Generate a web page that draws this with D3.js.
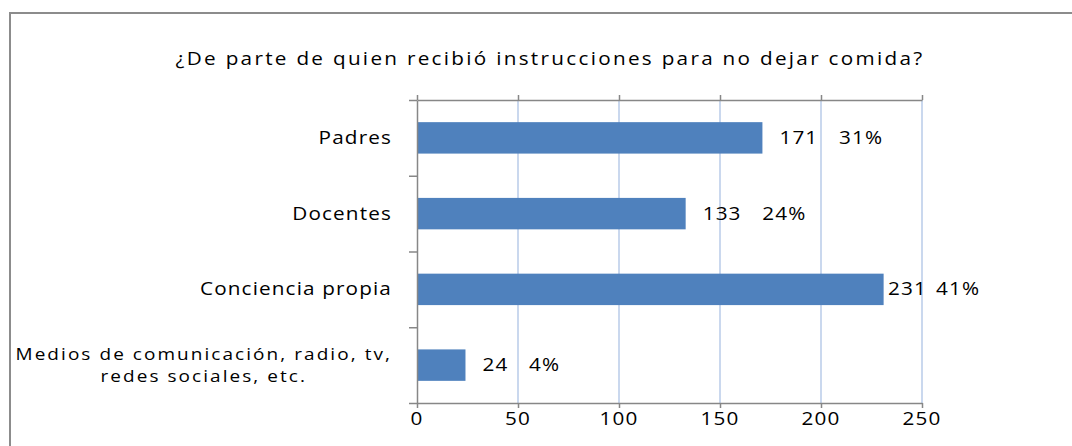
<!DOCTYPE html>
<html>
<head>
<meta charset="utf-8">
<script src="https://cdn.jsdelivr.net/npm/d3@7"></script>
<style>
  body { margin: 0; background: #fff; }
  svg text { font-family: "Open Sans", sans-serif; fill: #000; }
</style>
</head>
<body>
<script>
// chart data
var categories = ["Padres", "Docentes", "Conciencia propia", "Medios de comunicación, radio, tv,|redes sociales, etc."];
var values = [171, 133, 231, 24];
var xTicks = [0, 50, 100, 150, 200, 250];
var title = "¿De parte de quien recibió instrucciones para no dejar comida?";

var width = 1072, height = 446;
var fontSize = 18, stretch = 1.15, spacing = "1px";

var svg = d3.select("body").append("svg")
    .attr("width", width)
    .attr("height", height);

// outer border
svg.append("rect")
    .attr("x", 10).attr("y", 13)
    .attr("width", width).attr("height", height)
    .style("fill", "none")
    .style("stroke", "#8c8c8c")
    .style("stroke-width", 2);

var x = d3.scaleLinear().domain([0, 250]).range([417, 922]);
var y = d3.scaleBand().domain(categories).range([100, 403])
    .paddingInner(0.585).paddingOuter(0.2925);

var total = d3.sum(values);

// helper: horizontally stretched text
function stretchedText(parent, tx, ty, anchor, str) {
    var g = parent.append("g")
        .attr("transform", "translate(" + tx + "," + ty + ") scale(" + stretch + ",1)");
    return g.append("text")
        .attr("text-anchor", anchor)
        .style("font-size", fontSize + "px")
        .style("letter-spacing", spacing)
        .text(str);
}

// title
stretchedText(svg, 550, 65, "middle", title)
    .style("letter-spacing", "2px");

// gridlines
svg.append("g")
    .selectAll("line")
    .data(xTicks.slice(1))
    .enter().append("line")
    .attr("x1", function (d) { return x(d); })
    .attr("x2", function (d) { return x(d); })
    .attr("y1", 100).attr("y2", 403)
    .style("stroke", "#b9cbe8")
    .style("stroke-width", 1.5);

// bars
svg.append("g")
    .selectAll("rect")
    .data(values)
    .enter().append("rect")
    .attr("x", x(0))
    .attr("y", function (d, i) { return y(categories[i]); })
    .attr("width", function (d) { return x(d) - x(0); })
    .attr("height", y.bandwidth())
    .style("fill", "#4f81bd");

// axes
var axisColor = "#878787";
var bottomAxis = svg.append("g")
    .attr("transform", "translate(0,403)")
    .call(d3.axisBottom(x).tickValues(xTicks).tickSize(5).tickSizeOuter(0).tickFormat(""));
var topAxis = svg.append("g")
    .attr("transform", "translate(0,100)")
    .call(d3.axisTop(x).tickValues(xTicks).tickSize(5).tickSizeOuter(0).tickFormat(""));
var leftAxis = svg.append("g")
    .attr("transform", "translate(417,0)")
    .call(d3.axisLeft(d3.scaleLinear().domain([0, 4]).range([100, 403]))
        .ticks(4).tickSize(8).tickSizeOuter(0).tickFormat(""));

[bottomAxis, topAxis, leftAxis].forEach(function (a) {
    a.selectAll("path, line").style("stroke", axisColor).style("stroke-width", 1.5);
});

// tick labels
var tickG = svg.append("g");
xTicks.forEach(function (t) {
    stretchedText(tickG, x(t), 425, "middle", t);
});

// category labels
var catG = svg.append("g");
categories.forEach(function (c) {
    var lines = c.split("|");
    var cy = y(c) + y.bandwidth() / 2;
    if (lines.length === 1) {
        stretchedText(catG, 392, cy + 6, "end", c);
    } else {
        // two-line label: slightly smaller font, lines centred in one block
        var fs = 16.5, lh = 22.5, ls = "1.8px";
        var y0 = cy + 6 - (lines.length - 1) * lh / 2;
        var widths = lines.map(function (l) {
            var t = stretchedText(catG, 0, 0, "start", l).style("font-size", fs + "px")
                .style("letter-spacing", ls);
            var w = t.node().getComputedTextLength() * stretch;
            t.node().parentNode.remove();
            return w;
        });
        var maxW = d3.max(widths);
        lines.forEach(function (l, k) {
            stretchedText(catG, 392 - maxW / 2, y0 + k * lh, "middle", l)
                .style("font-size", fs + "px")
                .style("letter-spacing", ls);
        });
    }
});

// data labels: value and percent
var labelG = svg.append("g");
values.forEach(function (v, i) {
    var lx = Math.min(x(v) + 17, x(250) - 34);
    var ly = y(categories[i]) + y.bandwidth() / 2 + 6;
    var t = stretchedText(labelG, lx, ly, "start", "");
    t.append("tspan").text(v);
    t.append("tspan").attr("dx", v > 200 ? 8 : 18).text(d3.format(".0%")(v / total));
});
</script>
</body>
</html>
